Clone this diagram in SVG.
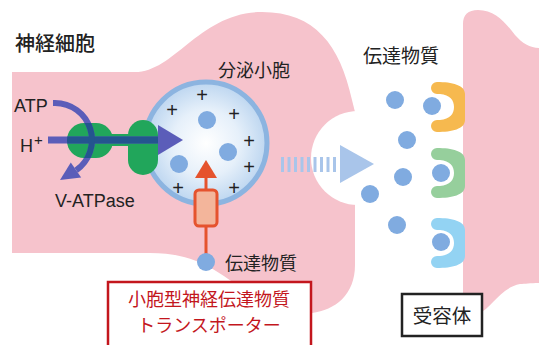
<svg xmlns="http://www.w3.org/2000/svg" width="539" height="345" viewBox="0 0 539 345">
  <style>
    .jp { font-family: "Noto Sans CJK JP", "Noto Sans", sans-serif; fill: #222; }
    .lat { font-family: "Liberation Sans", Arial, sans-serif; fill: #222; }
    .red { fill: #c3161d; }
    .cell { fill: #f6c3cc; }
    .nt { fill: #80abe0; }
    .plus { font-family: "Liberation Sans", Arial, sans-serif; font-size: 20px; fill: #222; text-anchor: middle; }
    .pump { stroke: #5b5db9; fill: none; }
    .pumpdark { stroke: #24558f; fill: none; }
    .green { fill: #21a65b; }
  </style>
  <defs>
    <radialGradient id="vesGrad" cx="0.5" cy="0.5" r="0.5">
      <stop offset="0" stop-color="#ffffff"/>
      <stop offset="0.55" stop-color="#e6f0fa"/>
      <stop offset="1" stop-color="#bdd6f0"/>
    </radialGradient>
    <clipPath id="atpaseClip">
      <rect x="67" y="123" width="46" height="35" rx="17"/>
      <rect x="110" y="134" width="22" height="12"/>
      <rect x="128" y="120" width="30" height="55" rx="15"/>
    </clipPath>
  </defs>

  <rect width="539" height="345" fill="#ffffff"/>

  <!-- presynaptic terminal -->
  <g id="neuron">
    <path class="cell" d="M 12,72 L 135,72 C 175,72 200,12 262,12 C 315,12 340,45 352,100 L 355,112 L 355,265 C 355,295 335,310 312,313 C 285,316 260,300 240,287 C 215,270 195,253 150,253 L 12,253 Z"/>
    <circle cx="358" cy="158" r="47" fill="#ffffff"/>
    <text class="jp" x="15" y="51" font-size="20" font-weight="500">神経細胞</text>
  </g>

  <!-- postsynaptic cell -->
  <g id="postsynaptic">
    <path class="cell" d="M 463,24 Q 463,10 478,10 C 495,10 505,22 515,35 C 522,43 530,48 539,48 L 539,283 C 530,283 525,284 520,284 C 500,288 492,308 478,314 Q 463,318 463,305 Z"/>
  </g>

  <!-- synaptic vesicle -->
  <g id="vesicle">
    <circle cx="206" cy="143" r="61" fill="url(#vesGrad)" stroke="#8cb4e0" stroke-width="5"/>
    <circle class="nt" cx="207" cy="120" r="9"/>
    <circle class="nt" cx="228" cy="152" r="9"/>
    <circle class="nt" cx="179" cy="164" r="9"/>
    <text class="plus" x="202" y="102">+</text>
    <text class="plus" x="172" y="117">+</text>
    <text class="plus" x="234" y="121">+</text>
    <text class="plus" x="249" y="148">+</text>
    <text class="plus" x="249" y="174">+</text>
    <text class="plus" x="178" y="195">+</text>
    <text class="plus" x="234" y="195">+</text>
    <text class="jp" x="218" y="77" font-size="18">分泌小胞</text>
  </g>

  <!-- V-ATPase proton pump -->
  <g id="v-atpase">
    <rect class="green" x="67" y="123" width="46" height="35" rx="17"/>
    <rect class="green" x="110" y="134" width="22" height="12"/>
    <rect class="green" x="128" y="120" width="30" height="55" rx="15"/>
    <text class="lat" x="14" y="112" font-size="18">ATP</text>
    <text class="lat" x="20" y="152" font-size="18">H</text>
    <text class="lat" x="34" y="145" font-size="15">+</text>
    <text class="lat" x="55" y="207" font-size="18">V-ATPase</text>
  </g>

  <!-- vesicular transmitter transporter -->
  <g id="transporter">
    <line x1="206" y1="176" x2="206" y2="256" stroke="#e5532e" stroke-width="3"/>
    <polygon points="206,160 195,178 217,178" fill="#e5532e"/>
    <rect x="195" y="190" width="22" height="36" rx="4" fill="#f3b59b" stroke="#e5532e" stroke-width="3"/>
    <circle class="nt" cx="206" cy="262" r="9"/>
    <text class="jp" x="225" y="270" font-size="18">伝達物質</text>
  </g>

  <!-- released transmitter -->
  <g id="transmitter">
    <text class="jp" x="363" y="63" font-size="19">伝達物質</text>
    <circle class="nt" cx="395" cy="100" r="9"/>
    <circle class="nt" cx="407" cy="140" r="9"/>
    <circle class="nt" cx="403" cy="177" r="9"/>
    <circle class="nt" cx="370" cy="194" r="9"/>
    <circle class="nt" cx="397" cy="225" r="9"/>
  </g>

  <!-- receptors -->
  <g id="receptor-orange">
    <path fill="#f6b94f" d="M 437,82 C 452,82 465,85 465,94 L 465,120 C 465,129 452,132 437,132 A 6 6 0 0 1 437,120 L 440,120 C 450,119 454,114 454,107 C 454,100 450,95 440,94 L 437,94 A 6 6 0 0 1 437,82 Z"/>
    <circle class="nt" cx="432" cy="106" r="9"/>
  </g>
  <g id="receptor-green">
    <path fill="#96cf9c" d="M 437,148 C 452,148 465,151 465,160 L 465,186 C 465,195 452,198 437,198 A 6 6 0 0 1 437,186 L 440,186 C 450,185 454,180 454,173 C 454,166 450,161 440,160 L 437,160 A 6 6 0 0 1 437,148 Z"/>
    <circle class="nt" cx="441" cy="173" r="9"/>
  </g>
  <g id="receptor-blue">
    <path fill="#93d3f3" d="M 437,218 C 452,218 465,221 465,230 L 465,256 C 465,265 452,268 437,268 A 6 6 0 0 1 437,256 L 440,256 C 450,255 454,250 454,243 C 454,236 450,231 440,230 L 437,230 A 6 6 0 0 1 437,218 Z"/>
    <circle class="nt" cx="441" cy="242" r="9"/>
  </g>

  <!-- label boxes -->
  <g id="vglut-label">
    <rect x="108" y="282" width="203" height="70" fill="#ffffff" stroke="#c3161d" stroke-width="2.5"/>
    <text class="jp red" x="209" y="305.5" font-size="18" text-anchor="middle">小胞型神経伝達物質</text>
    <text class="jp red" x="209" y="332" font-size="18" text-anchor="middle">トランスポーター</text>
  </g>
  <g id="receptor-label">
    <rect x="402" y="294" width="80" height="42" fill="#ffffff" stroke="#222" stroke-width="2.5"/>
    <text class="jp" x="442" y="323" font-size="19.5" text-anchor="middle">受容体</text>
  </g>

  <!-- connectors -->
  <g id="connectors">
    <!-- proton flow and ATP hydrolysis -->
    <line class="pump" x1="48" y1="140" x2="160" y2="140" stroke-width="7"/>
    <polygon points="158,125 183,140 158,155" fill="#5b5db9"/>
    <path class="pump" d="M 53,103 L 55,103 A 37 37 0 0 1 76.2,170.3" stroke-width="6"/>
    <polygon points="81.2,177.4 70.8,162.6 60,180" fill="#5b5db9"/>
    <g clip-path="url(#atpaseClip)">
      <line class="pumpdark" x1="48" y1="140" x2="160" y2="140" stroke-width="7"/>
      <path class="pumpdark" d="M 53,103 L 55,103 A 37 37 0 0 1 76.2,170.3" stroke-width="6"/>
    </g>
    <!-- exocytosis arrow -->
    <g fill="#a9c5ea">
      <rect x="281" y="157" width="3" height="15"/>
      <rect x="287.5" y="157" width="3" height="15"/>
      <rect x="294" y="157" width="3" height="15"/>
      <rect x="300.5" y="157" width="3" height="15"/>
      <rect x="307" y="157" width="3" height="15"/>
      <rect x="313.5" y="157" width="3" height="15"/>
      <rect x="320" y="157" width="3" height="15"/>
      <rect x="326.5" y="157" width="3" height="15"/>
      <rect x="333" y="157" width="3" height="15"/>
      <polygon points="340,145 340,183 374,164"/>
    </g>
  </g>
</svg>
